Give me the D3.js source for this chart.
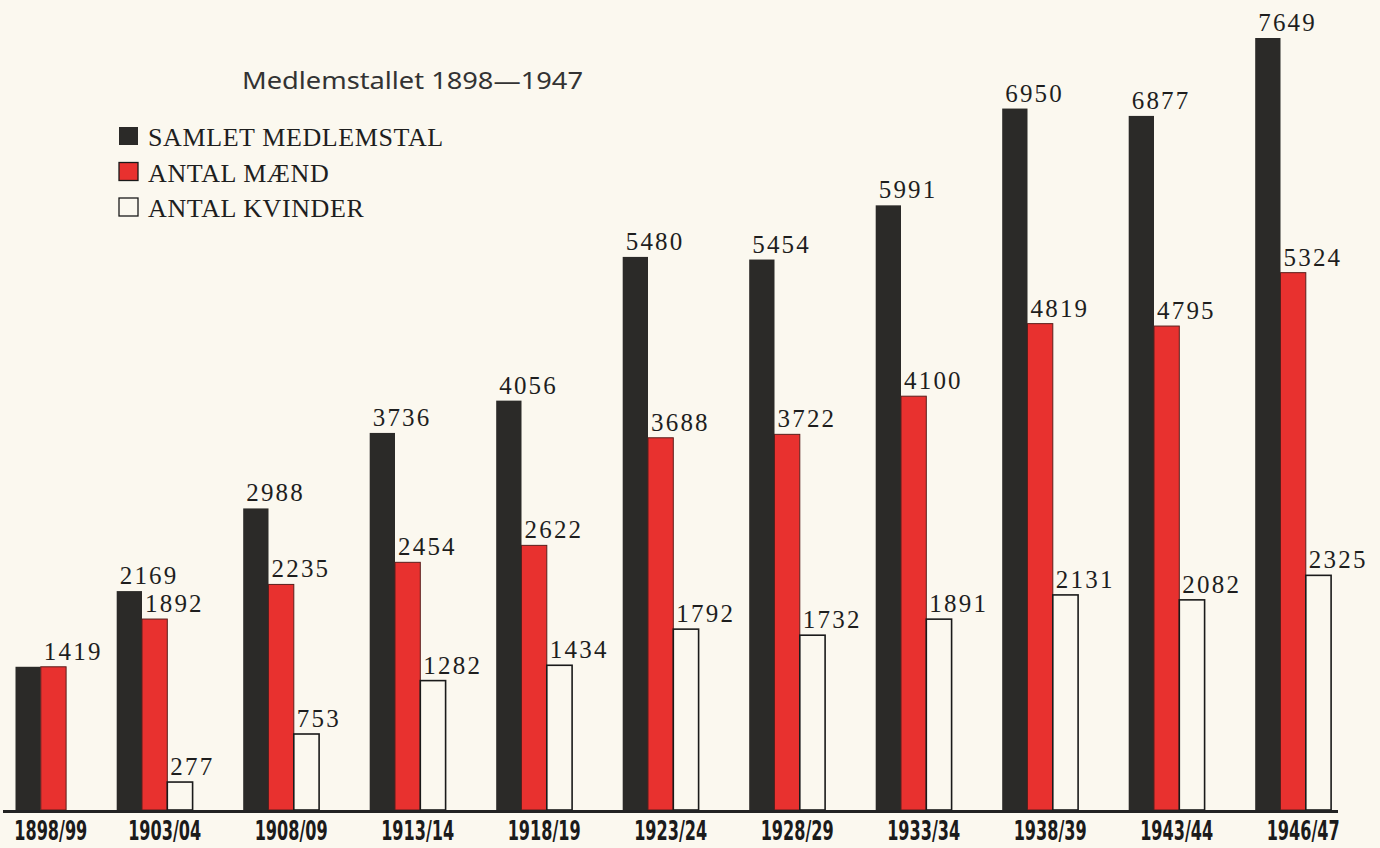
<!DOCTYPE html>
<html>
<head>
  <meta charset="utf-8">
  <title>Medlemstallet 1898-1947</title>
  <style>
    body
    {
      margin: 0;
      background: #fbf8ef;
    }

    .value
    {
      font-family: "Liberation Serif", serif;
      font-size: 25px;
      letter-spacing: 2.2px;
      fill: #1e1e1e;
    }

    .legend
    {
      font-family: "Liberation Serif", serif;
      font-size: 26px;
      letter-spacing: 0.6px;
      fill: #1e1e1e;
    }

    .cat
    {
      font-family: "Liberation Sans Narrow", "DejaVu Sans Condensed", sans-serif;
      font-weight: bold;
      font-size: 26px;
      fill: #1b1b1b;
    }
  </style>
</head>
<body>
  <script src="https://d3js.org/d3.v7.min.js"></script>
  <script>
// data
var categories = ["1898/99", "1903/04", "1908/09", "1913/14", "1918/19", "1923/24",
                  "1928/29", "1933/34", "1938/39", "1943/44", "1946/47"];
var total = [1419, 2169, 2988, 3736, 4056, 5480, 5454, 5991, 6950, 6877, 7649];
var men   = [1419, 1892, 2235, 2454, 2622, 3688, 3722, 4100, 4819, 4795, 5324];
var women = [null, 277, 753, 1282, 1434, 1792, 1732, 1891, 2131, 2082, 2325];
var seriesNames = ["SAMLET MEDLEMSTAL", "ANTAL MÆND", "ANTAL KVINDER"];
var title = "Medlemstallet 1898\u20141947";

var fills = ["#2b2a28", "#e8312f", "#fbf8ef"];
var strokes = ["none", "#5a1f1c", "#1a1a1a"];

var svg = d3.select("body")
  .append("svg")
  .attr("width", 1380)
  .attr("height", 848);

svg.append("rect")
  .attr("width", 1380)
  .attr("height", 848)
  .attr("fill", "#fbf8ef");

// every group is packed: one slot per bar, two slots of gap between groups
var gapSlots = 2;
var bars = [];
var groups = [];
var slot = 0;
categories.forEach(function(c, i) {
  var vals = [total[i], men[i], women[i]];
  var k = 0;
  vals.forEach(function(v, s) {
    if (v == null) return;
    bars.push({ cat: i, series: s, value: v, slot: slot + k,
                // the total label is left out when it equals the men bar
                label: !(s == 0 && v == men[i]) });
    k++;
  });
  groups.push({ start: slot, end: slot + k });
  slot += k + gapSlots;
});
var totalSlots = slot - gapSlots;

var x = d3.scaleLinear()
  .domain([0, totalSlots])
  .range([15.5, 15.5 + totalSlots * 25.3]);

var y = d3.scaleLinear()
  .domain([0, 7649])
  .range([810, 38]);

var barW = x(1) - x(0);

// bars
svg.selectAll("rect.bar")
  .data(bars)
  .enter()
  .append("rect")
  .attr("class", "bar")
  .attr("x", function(d) { return x(d.slot); })
  .attr("y", function(d) { return y(d.value); })
  .attr("width", barW)
  .attr("height", function(d) { return y(0) - y(d.value); })
  .attr("fill", function(d) { return fills[d.series]; })
  .attr("stroke", function(d) { return strokes[d.series]; })
  .attr("stroke-width", function(d) { return d.series == 2 ? 1.6 : 1; });

// value labels, left aligned on the bar
svg.selectAll("text.value")
  .data(bars.filter(function(d) { return d.label; }))
  .enter()
  .append("text")
  .attr("class", "value")
  .attr("x", function(d) { return x(d.slot) + 3; })
  .attr("y", function(d) { return y(d.value) - 7; })
  .text(function(d) { return d.value; });

// base line
svg.append("line")
  .attr("x1", 3)
  .attr("x2", 1338)
  .attr("y1", y(0) + 1.5)
  .attr("y2", y(0) + 1.5)
  .attr("stroke", "#222")
  .attr("stroke-width", 3);

// category labels
svg.selectAll("text.cat")
  .data(categories)
  .enter()
  .append("text")
  .attr("class", "cat")
  .attr("x", function(d, i) { return (x(groups[i].start) + x(groups[i].end)) / 2 + 10; })
  .attr("y", 840)
  .attr("text-anchor", "middle")
  .attr("textLength", 73)
  .attr("lengthAdjust", "spacingAndGlyphs")
  .text(function(d) { return d; });

// title
svg.append("text")
  .attr("x", 242)
  .attr("y", 89)
  .attr("font-family", "'Noto Sans', sans-serif")
  .attr("font-size", 23)
  .attr("fill", "#333")
  .attr("textLength", 341)
  .attr("lengthAdjust", "spacingAndGlyphs")
  .text(title);

// legend
var legend = svg.selectAll("g.legend")
  .data(seriesNames)
  .enter()
  .append("g")
  .attr("transform", function(d, i) { return "translate(119," + (146 + i * 35.5) + ")"; });

legend.append("rect")
  .attr("x", 0)
  .attr("y", -19)
  .attr("width", 19)
  .attr("height", 18)
  .attr("fill", function(d, i) { return fills[i]; })
  .attr("stroke", function(d, i) { return i == 0 ? "none" : "#1a1a1a"; })
  .attr("stroke-width", 1.3);

legend.append("text")
  .attr("class", "legend")
  .attr("x", 29)
  .attr("y", 0)
  .text(function(d) { return d; });
  </script>
</body>
</html>
